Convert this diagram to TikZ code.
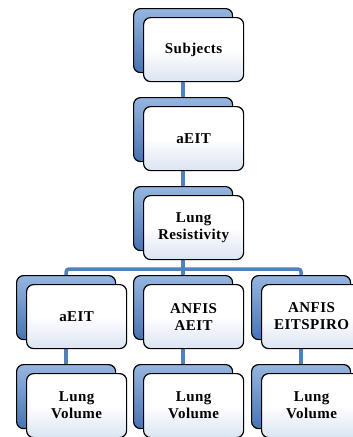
\documentclass[tikz,border=0pt]{standalone}
\usepackage{fontspec}
\setmainfont{Liberation Serif}[LetterSpace=3]
\usetikzlibrary{backgrounds}
\definecolor{linkblue}{RGB}{79,129,189}
\definecolor{backdark}{RGB}{70,116,178}
\definecolor{backlight}{RGB}{150,182,224}
\definecolor{facebottom}{RGB}{218,228,242}
\tikzset{
  x=1pt, y=1pt,
  backbox/.style={draw=black, line width=1.2pt, rounded corners=7pt,
    minimum width=99pt, minimum height=64pt, anchor=north west,
    top color=backlight, bottom color=backdark, inner sep=0pt},
  facebox/.style={draw=black, line width=1.2pt, rounded corners=7pt,
    minimum width=100pt, minimum height=64pt, anchor=north west,
    top color=white, bottom color=facebottom, middle color=white,
    align=center, inner sep=2pt,
    font=\bfseries\fontsize{15}{17}\selectfont},
  link/.style={draw=linkblue, line width=3.5pt, rounded corners=3pt}
}
\begin{document}
\begin{tikzpicture}
\useasboundingbox (0,0) rectangle (353,-437);

% top chain
\node[backbox] (b1) at (133,-8) {};
\node[facebox] (f1) at (143,-17) {Subjects};
\node[backbox] (b2) at (133,-97) {};
\node[facebox] (f2) at (143,-106) {aEIT};
\node[backbox] (b3) at (133,-186) {};
\node[facebox] (f3) at (143,-195) {Lung\\Resistivity};

% method row
\node[backbox] (b4a) at (16,-275) {};
\node[facebox] (f4a) at (26,-284) {aEIT};
\node[backbox] (b4b) at (133,-275) {};
\node[facebox] (f4b) at (143,-284) {ANFIS\\AEIT};
\node[backbox] (b4c) at (251,-275) {};
\node[facebox] (f4c) at (261,-284) {ANFIS\\EITSPIRO};

% result row
\node[backbox] (b5a) at (16,-364) {};
\node[facebox] (f5a) at (26,-373) {Lung\\Volume};
\node[backbox] (b5b) at (133,-364) {};
\node[facebox] (f5b) at (143,-373) {Lung\\Volume};
\node[backbox] (b5c) at (251,-364) {};
\node[facebox] (f5c) at (261,-373) {Lung\\Volume};

\coordinate (bus) at (0,-269);

\begin{pgfonlayer}{background}
  \draw[link] (b1.center) -- (b2.center);
  \draw[link] (b2.center) -- (b3.center);
  \draw[link] (b3.center) -- (b4b.center);
  \draw[link] (b4a.center) -- (b4a.center |- bus) -- (b4c.center |- bus) -- (b4c.center);
  \draw[link] (b4a.center) -- (b5a.center);
  \draw[link] (b4b.center) -- (b5b.center);
  \draw[link] (b4c.center) -- (b5c.center);
\end{pgfonlayer}
\end{tikzpicture}
\end{document}
